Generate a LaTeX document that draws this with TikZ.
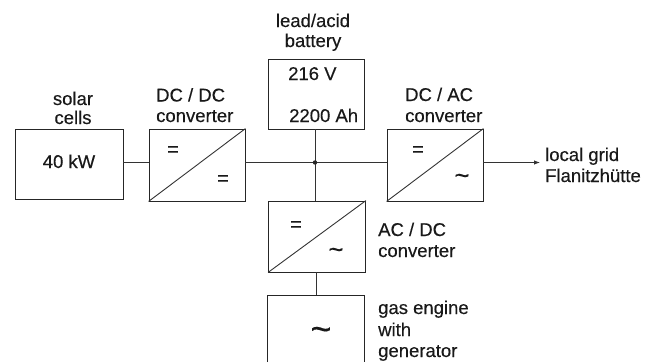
\documentclass[tikz,border=0pt]{standalone}
\usepackage{fontspec}
\setmainfont[FakeBold=0.35]{Liberation Sans}
\usetikzlibrary{arrows.meta}
\tikzset{
  x=1pt,y=-1pt,
  lbl/.style={inner sep=0pt,anchor=base west,font=\addfontfeatures{FakeBold=0.35}\fontsize{18.5}{20}\selectfont,text=black!90},
  clbl/.style={lbl,anchor=base},
  sym/.style={inner sep=0pt,font=\fontsize{20}{20}\selectfont,text=black!90},
  tilde/.style={inner sep=0pt,font=\fontsize{26}{26}\selectfont,text=black!90},
  box/.style={draw=black!85,line width=0.9pt,inner sep=0pt},
  wire/.style={draw=black!80,line width=0.9pt},
}
\begin{document}
\begin{tikzpicture}
\useasboundingbox (0,0) rectangle (654,362);
% boxes
\node[box,minimum width=108pt,minimum height=70pt] (solar) at (69,164) {};
\node[box,minimum width=96pt,minimum height=72pt] (dcdc) at (197,165) {};
\node[box,minimum width=96pt,minimum height=70pt] (batt) at (316,94) {};
\node[box,minimum width=96pt,minimum height=72pt] (dcac) at (435,165) {};
\node[box,minimum width=97pt,minimum height=71pt] (acdc) at (317,236.5) {};
\draw[box] (267,362) |- (364,295) -- (364,362);
\coordinate (gas) at (316,295);
% diagonals
\draw[wire] (dcdc.south west) -- (dcdc.north east);
\draw[wire] (dcac.south west) -- (dcac.north east);
\draw[wire] (acdc.south west) -- (acdc.north east);
% connectors
\coordinate (junction) at (315,162.5);
\coordinate (grid) at (540,162.5);
\draw[wire] (solar.east |- junction) -- (dcdc.west |- junction);
\draw[wire] (dcdc.east |- junction) -- (dcac.west |- junction);
\draw[wire] (batt.south -| junction) -- (acdc.north -| junction);
\draw[wire] (acdc.south -| gas) -- (gas);
\draw[wire,-{Latex[length=6pt,width=4.5pt]}] (dcac.east |- grid) -- (grid);
\fill[black!85] (junction) circle (2.2pt);
% labels
\node[clbl] (l1) at (73,105) {solar};
\node[clbl] (l2) at (73,124) {cells};
\node[clbl] (l3) at (69,168) {40 kW};
\node[lbl] (l4) at (156,101.5) {DC / DC};
\node[lbl] (l5) at (156,122) {converter};
\node[clbl] (l6) at (313,27) {lead/acid};
\node[clbl] (l7) at (313,47) {battery};
\node[lbl] (l8) at (288,80) {216 V};
\node[lbl] (l9) at (289,122) {2200 Ah};
\node[lbl] (l10) at (405,101) {DC / AC};
\node[lbl] (l11) at (405,122) {converter};
\node[lbl] (l12) at (545,161) {local grid};
\node[lbl] (l13) at (545,182) {Flanitzhütte};
\node[lbl] (l14) at (378,236) {AC / DC};
\node[lbl] (l15) at (378,257) {converter};
\node[lbl] (l16) at (378,314) {gas engine};
\node[lbl] (l17) at (378,336) {with};
\node[lbl] (l18) at (378,357) {generator};
% symbols
\node[sym] (s1) at (173,151) {=};
\node[sym] (s2) at (223,180) {=};
\node[sym] (s3) at (418,151) {=};
\node[tilde] (s4) at (462,179) {\char`\~};
\node[sym] (s5) at (296,226) {=};
\node[tilde] (s6) at (336,253) {\char`\~};
\node[tilde,font=\fontsize{36}{36}\selectfont] (s7) at (321,334) {\char`\~};
\end{tikzpicture}
\end{document}
